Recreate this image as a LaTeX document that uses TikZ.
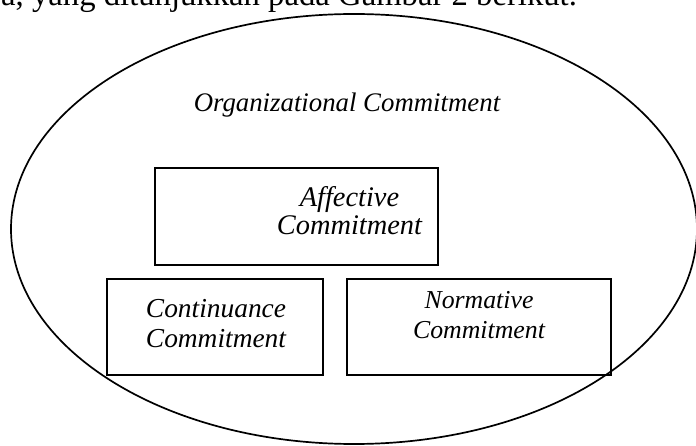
\documentclass[tikz,border=0pt]{standalone}
\usepackage{fontspec}
\setmainfont{Liberation Serif}
\usetikzlibrary{positioning}
\tikzset{
  combox/.style={draw, line width=1.7pt, inner sep=0pt},
  comlabel/.style={align=center, inner sep=0pt, anchor=base},
}
\begin{document}
\begin{tikzpicture}[x=1pt,y=-1pt]
        \useasboundingbox (0,0) rectangle (696,446);
        \clip (0,0) rectangle (696,446);
        \node[anchor=base west, inner sep=0pt, font=\fontsize{32.7}{34}\selectfont] (intro) at (1,6) {a, yang ditunjukkan pada Gambar 2 berikut.};

        \draw[line width=1.7pt] (354,229) coordinate (O) ellipse (343pt and 215pt);
        \node[comlabel, font=\itshape\fontsize{26.8}{28}\selectfont] (orgtxt) at (347,112) {Organizational Commitment};

        \def\rowy{327} \def\rowh{96}
        \node[combox, minimum width=283pt, minimum height=97pt] (affbox) at (296.5,216.5) {};
        \node[combox, minimum width=216pt, minimum height=\rowh pt] (conbox) at (215,\rowy) {};
        \node[combox, minimum width=264pt, minimum height=\rowh pt] (norbox) at (479,\rowy) {};

        % base anchor sits on the last line
        \node[comlabel, font=\itshape\fontsize{28.4}{28}\selectfont] (afftxt) at (349.5,235) {Affective\\Commitment};
        \node[comlabel, font=\itshape\fontsize{27.4}{30}\selectfont] (contxt) at (216,347) {Continuance\\Commitment};
        \node[comlabel, font=\itshape\fontsize{25.8}{30}\selectfont] (nortxt) at (479,338) {Normative\\Commitment};
      \end{tikzpicture}
\end{document}
